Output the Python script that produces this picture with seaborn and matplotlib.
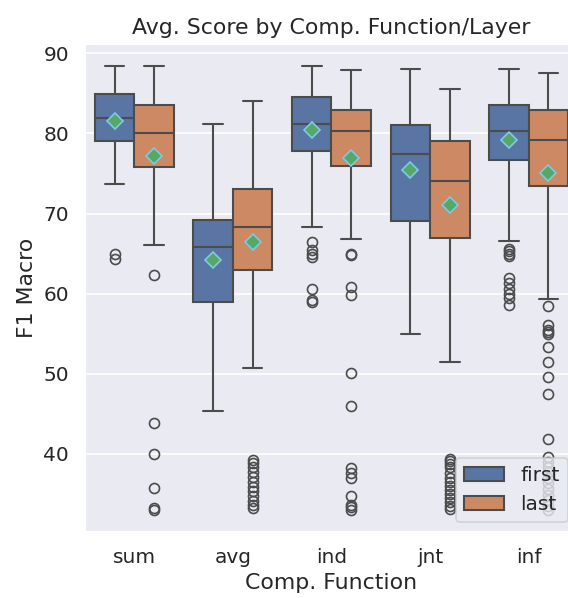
#!/usr/bin/env python3

# ========================================================================
#
# Imports
#
# ========================================================================
import numpy as np
import pandas as pd
import matplotlib as mpl
mpl.use('Agg')
import matplotlib.pyplot as plt
import seaborn as sns


# ========================================================================
#
# Data
#
# each box: values [whisker lo, a, Q1, b, median, c, Q3, d, whisker hi]
# with how many runs sit at each value, plus the outliers
#
# ========================================================================
functions = ['sum', 'avg', 'ind', 'jnt', 'inf']
layers = ['first', 'last']

sum_first = [73.7, 78.5, 79.1, 81.0, 81.9, 83.5, 84.9, 86.8, 88.4]
sum_first_n = [1, 6, 3, 7, 3, 7, 3, 8, 1]
sum_first_out = [64.9, 64.3]

sum_last = [66.1, 72.0, 75.8, 78.0, 80.1, 82.0, 83.6, 86.0, 88.4]
sum_last_n = [1, 12, 3, 17, 3, 17, 3, 18, 1]
sum_last_out = [62.3, 43.8, 40.0, 35.7, 33.2, 33.0]

avg_first = [45.4, 52.2, 59.0, 63.0, 65.8, 67.5, 69.2, 74.0, 81.2]
avg_first_n = [1, 3, 3, 2, 3, 2, 3, 3, 1]
avg_first_out = []

avg_last = [50.7, 61.0, 63.0, 66.5, 68.3, 71.0, 73.1, 77.3, 84.0]
avg_last_n = [1, 16, 3, 27, 3, 27, 3, 28, 1]
avg_last_out = [39.2, 38.8, 38.3, 37.7, 37.1, 36.5, 35.9, 35.3, 34.7,
                34.1, 33.6, 33.2]

ind_first = [68.3, 77.0, 77.8, 80.2, 81.2, 83.0, 84.5, 86.9, 88.4]
ind_first_n = [1, 11, 3, 17, 3, 17, 3, 18, 1]
ind_first_out = [66.4, 65.4, 64.9, 64.6, 60.6, 59.2, 59.0]

ind_last = [66.8, 75.0, 75.9, 78.5, 80.3, 81.8, 82.9, 85.6, 87.9]
ind_last_n = [1, 15, 3, 27, 3, 27, 3, 28, 1]
ind_last_out = [64.9, 64.8, 60.8, 59.8, 50.1, 46.0, 38.2, 37.6, 37.0,
                34.7, 33.6, 33.3, 33.0]

jnt_first = [54.9, 65.8, 69.1, 74.0, 77.4, 79.5, 81.0, 84.5, 88.0]
jnt_first_n = [1, 3, 3, 2, 3, 2, 3, 3, 1]
jnt_first_out = []

jnt_last = [51.5, 66.0, 67.0, 72.5, 74.1, 77.5, 79.0, 82.6, 85.5]
jnt_last_n = [1, 14, 3, 27, 3, 27, 3, 28, 1]
jnt_last_out = [39.4, 39.1, 38.7, 38.3, 37.6, 37.0, 36.5, 36.0, 35.5,
                35.0, 34.5, 34.0, 33.5, 33.1]

inf_first = [66.6, 75.5, 76.7, 79.3, 80.3, 82.0, 83.6, 85.65, 88.0]
inf_first_n = [1, 13, 3, 22, 3, 22, 3, 23, 1]
inf_first_out = [65.6, 65.3, 65.0, 64.7, 61.9, 61.3, 60.6, 59.9, 59.5, 58.6]

inf_last = [59.3, 72.5, 73.4, 78.0, 79.2, 81.5, 82.9, 85.6, 87.5]
inf_last_n = [1, 12, 3, 32, 3, 32, 3, 33, 1]
inf_last_out = [58.4, 56.1, 55.5, 55.2, 54.9, 53.3, 51.4, 49.6, 47.4, 41.9,
                39.6, 39.0, 38.4, 37.7, 37.0, 36.3, 35.6, 34.9, 34.2, 33.5,
                33.0]


# ========================================================================
#
# Main
#
# ========================================================================
if __name__ == '__main__':

    groups = [
        ('sum', 'first', sum_first, sum_first_n, sum_first_out),
        ('sum', 'last', sum_last, sum_last_n, sum_last_out),
        ('avg', 'first', avg_first, avg_first_n, avg_first_out),
        ('avg', 'last', avg_last, avg_last_n, avg_last_out),
        ('ind', 'first', ind_first, ind_first_n, ind_first_out),
        ('ind', 'last', ind_last, ind_last_n, ind_last_out),
        ('jnt', 'first', jnt_first, jnt_first_n, jnt_first_out),
        ('jnt', 'last', jnt_last, jnt_last_n, jnt_last_out),
        ('inf', 'first', inf_first, inf_first_n, inf_first_out),
        ('inf', 'last', inf_last, inf_last_n, inf_last_out),
    ]

    rows = []
    for func, layer, vals, counts, outl in groups:
        for v in list(np.repeat(vals, counts)) + outl:
            rows.append((func, layer, float(v)))
    df = pd.DataFrame(rows, columns=['Comp. Function', 'Layer', 'F1 Macro'])

    # ========================================================================
    # Plot
    sns.set_theme(style='darkgrid', font_scale=1.1)

    fig = plt.figure(figsize=(568 / 120, 598 / 120), dpi=120)
    ax = fig.add_axes([0.1496, 0.1104, 0.868, 0.816])

    sns.boxplot(data=df, x='Comp. Function', y='F1 Macro', hue='Layer',
                order=functions, hue_order=layers, showmeans=True,
                linewidth=1.25,
                meanprops={'marker': 'D', 'markerfacecolor': '#55A868',
                           'markeredgecolor': '#7ccbe0', 'markersize': 7},
                ax=ax)

    ax.set_title('Avg. Score by Comp. Function/Layer')
    sns.move_legend(ax, 'lower right', title=None)

    fig.savefig('out.png', dpi=120)
